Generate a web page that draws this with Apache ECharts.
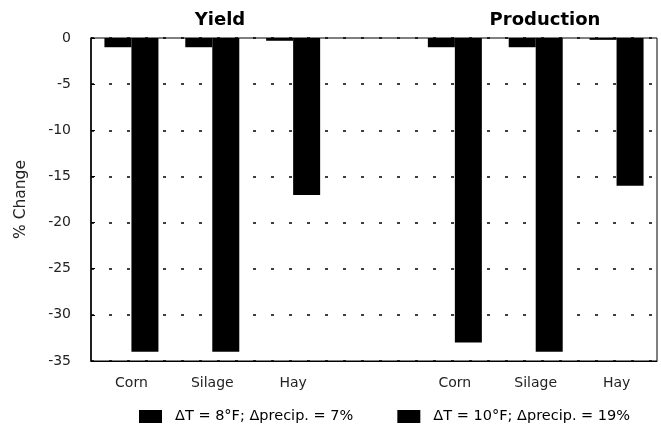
<!DOCTYPE html>
<html>
<head>
<meta charset="utf-8">
<script src="https://cdn.jsdelivr.net/npm/echarts@6/dist/echarts.min.js"></script>
<style>
  html, body { margin: 0; padding: 0; background: #fff; }
  #main { width: 661px; height: 426px; }
</style>
</head>
<body>
<div id="main"></div>
<script>
// categories (the empty one separates Yield from Production)
var categories = ['Corn', 'Silage', 'Hay', '', 'Corn', 'Silage', 'Hay'];
// % change
var lowScenario = [-1, -1, -0.3, '-', -1, -1, -0.2];
var highScenario = [-34, -34, -17, '-', -33, -34, -16];
var seriesNames = ['\u0394T = 8\u00b0F; \u0394precip. = 7%', '\u0394T = 10\u00b0F; \u0394precip. = 19%'];
var yTicks = { min: -35, max: 0, step: 5 };

var myChart = echarts.init(document.getElementById('main'));

var font = 'DejaVu Sans';

var option = {
    animation: false,
    backgroundColor: '#fff',
    title: [
        { text: 'Yield', left: 215, top: 6, textAlign: 'center',
          textStyle: { fontFamily: font, fontWeight: 'bold', fontSize: 18, color: '#000' } },
        { text: 'Production', left: 540, top: 6, textAlign: 'center',
          textStyle: { fontFamily: font, fontWeight: 'bold', fontSize: 18, color: '#000' } }
    ],
    legend: {
        left: 134,
        top: 404,
        itemWidth: 23,
        itemHeight: 13,
        itemGap: 44,
        icon: 'rect',
        textStyle: { fontFamily: font, fontSize: 14.5, color: '#000', padding: [0, 0, 0, 8] },
        data: seriesNames
    },
    grid: {
        left: 91, right: 4, top: 38, bottom: 65,
        show: true, borderColor: '#000', borderWidth: 1
    },
    xAxis: {
        type: 'category',
        data: categories,
        position: 'bottom',
        axisLine: { onZero: false, lineStyle: { color: '#000' } },
        axisTick: { show: false },
        axisLabel: { margin: 15, fontFamily: font, fontSize: 14, color: '#222' }
    },
    yAxis: {
        type: 'value',
        min: yTicks.min,
        max: yTicks.max,
        interval: yTicks.step,
        name: '% Change',
        nameLocation: 'middle',
        nameRotate: 90,
        nameGap: 62,
        nameTextStyle: { fontFamily: font, fontSize: 15.5, color: '#222' },
        axisLine: { show: true, lineStyle: { color: '#000', width: 1.5 } },
        axisTick: { show: true, inside: true, length: 4, lineStyle: { color: '#000' } },
        axisLabel: { margin: 20, fontFamily: font, fontSize: 14, color: '#222' },
        splitLine: { lineStyle: { color: '#000', type: [3, 15], width: 1.5 } }
    },
    series: [
        { name: seriesNames[0], type: 'bar', data: lowScenario, barWidth: 27, barGap: '0%',
          itemStyle: { color: '#000' } },
        { name: seriesNames[1], type: 'bar', data: highScenario, barWidth: 27,
          itemStyle: { color: '#000' } }
    ]
};

myChart.setOption(option);
</script>
</body>
</html>
